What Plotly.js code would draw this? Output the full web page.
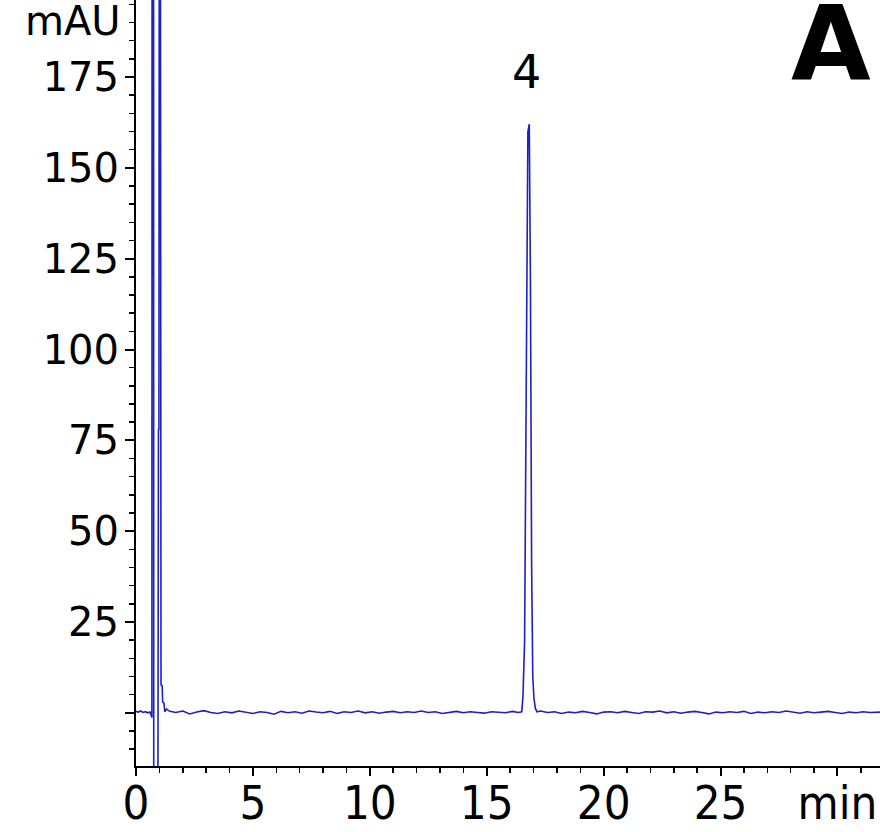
<!DOCTYPE html>
<html>
<head>
<meta charset="utf-8">
<script src="https://cdn.plot.ly/plotly-3.0.1.min.js"></script>
<style>
html,body{margin:0;padding:0;background:#fff;}
#chart{width:880px;height:832px;}
</style>
</head>
<body>
<div id="chart"></div>
<script>
// Retention time (min) and absorbance (mAU)
const timeMin = [
  0.00, 0.10, 0.20, 0.30, 0.40, 0.50, 0.60, 0.65, 0.68,
  0.69, 0.75, 0.76, 0.93, 0.96, 0.98, 1.00, 1.04, 1.07, 1.12, 1.14, 1.20, 1.23,
  1.30, 1.45, 1.70, 2.00, 2.30, 2.60, 2.90, 3.20, 3.50, 3.80, 4.10, 4.40, 4.70,
  5.00, 5.30, 5.60, 5.90, 6.20, 6.50, 6.80, 7.10, 7.40, 7.70, 8.00, 8.30, 8.60,
  8.90, 9.20, 9.50, 9.80, 10.10, 10.40, 10.70, 11.00, 11.30, 11.60, 11.90, 12.20,
  12.50, 12.80, 13.10, 13.40, 13.70, 14.00, 14.30, 14.60, 14.90, 15.20, 15.50,
  15.80, 16.10, 16.35, 16.50,
  16.55, 16.62, 16.69, 16.76, 16.82, 16.87, 16.92, 16.97, 17.02, 17.08, 17.15,
  17.30, 17.60, 17.90, 18.20, 18.50, 18.80, 19.10, 19.40, 19.70, 20.00, 20.30,
  20.60, 20.90, 21.20, 21.50, 21.80, 22.10, 22.40, 22.70, 23.00, 23.30, 23.60,
  23.90, 24.20, 24.50, 24.80, 25.10, 25.40, 25.70, 26.00, 26.30, 26.60, 26.90,
  27.20, 27.50, 27.80, 28.10, 28.40, 28.70, 29.00, 29.30, 29.60, 29.90, 30.20,
  30.50, 30.80, 31.10, 31.40, 31.82
];
const absMAU = [
  0.4, 0.2, 0.5, 0.1, 0.3, 0.0, 0.2, -0.5, -1.3,
  250, 250, -60, -60, 78, 78, 260, 260, 7.7, 7.4, 3.0, 2.6, 0.3,
  1.0, 0.4, 0.1, 0.5, -0.3, 0.2, 0.6, 0.1, -0.2, 0.3, 0.0, 0.5, 0.2,
  -0.2, 0.3, 0.1, -0.4, 0.4, 0.0, 0.3, -0.1, 0.5, 0.2, 0.0, 0.4, -0.2,
  0.3, 0.1, 0.5, 0.0, 0.3, -0.1, 0.2, 0.4, 0.0, 0.3, 0.1, 0.5,
  0.1, 0.3, -0.2, 0.2, 0.4, 0.0, 0.3, 0.1, -0.1, 0.3, 0.2,
  0.0, 0.4, 0.1, 0.3,
  4.5, 19.6, 87, 160, 162, 118, 40.6, 10, 4, 1.2, 0.3,
  0.5, 0.1, 0.3, -0.2, 0.2, 0.0, 0.4, 0.1, -0.3, 0.2, 0.3,
  0.0, 0.4, 0.1, -0.2, 0.3, 0.2, 0.5, 0.0, 0.3, -0.1, 0.2,
  0.4, 0.1, -0.3, 0.2, 0.0, 0.3, 0.1, 0.4, -0.2, 0.2, 0.0,
  0.3, 0.1, 0.5, 0.2, -0.1, 0.3, 0.0, 0.2, 0.4, 0.1, -0.2,
  0.2, 0.0, 0.3, 0.1, 0.2
];
const xTickVals = [0, 5, 10, 15, 20, 25, 30];
const xTickText = ['0', '5', '10', '15', '20', '25', 'min'];
const yTickVals = [0, 25, 50, 75, 100, 125, 150, 175];
const yTickText = ['', '25', '50', '75', '100', '125', '150', '175'];
const peakLabels = [{t: 16.84, v: 162, label: '4'}];

const trace = {
  x: timeMin, y: absMAU, type: 'scatter', mode: 'lines',
  line: {color: '#2020c0', width: 1.6},
  hoverinfo: 'skip'
};

const layout = {
  width: 880, height: 832,
  margin: {l: 136, r: 0, t: 0, b: 66, pad: 0},
  paper_bgcolor: '#ffffff', plot_bgcolor: '#ffffff',
  showlegend: false,
  xaxis: {
    range: [0, 31.82], showgrid: false, zeroline: false,
    showline: true, linecolor: '#000', linewidth: 2,
    ticks: 'outside', ticklen: 8, tickwidth: 2, tickcolor: '#000',
    tickmode: 'array', tickvals: xTickVals, ticktext: xTickText,
    tickfont: {family: 'DejaVu Sans Condensed, DejaVu Sans', size: 47, color: '#000'},
    ticklabelstandoff: -13,
    minor: {dtick: 1, ticks: 'outside', ticklen: 5, tickwidth: 1.5, tickcolor: '#000', showgrid: false}
  },
  yaxis: {
    range: [-14.64, 196.2], showgrid: false, zeroline: false,
    showline: true, linecolor: '#000', linewidth: 2,
    ticks: 'outside', ticklen: 9, tickwidth: 2, tickcolor: '#000',
    tickmode: 'array', tickvals: yTickVals, ticktext: yTickText,
    tickfont: {family: 'DejaVu Sans, Verdana', size: 40, color: '#000'},
    ticklabelstandoff: -2,
    minor: {dtick: 5, ticks: 'outside', ticklen: 5, tickwidth: 1.5, tickcolor: '#000', showgrid: false}
  },
  annotations: [
    {xref: 'paper', yref: 'paper', x: -0.024, y: 1.0, xanchor: 'right', yanchor: 'top',
     text: 'mAU', showarrow: false, yshift: 4, xshift: 5,
     font: {family: 'DejaVu Sans, Verdana', size: 40, color: '#000'}},
    {xref: 'paper', yref: 'paper', x: 0.9345, y: 1.0, xanchor: 'center', yanchor: 'top',
     text: '<b>A</b>', showarrow: false, yshift: 18,
     font: {family: 'DejaVu Sans, Verdana', size: 103, color: '#000'}}
  ].concat(peakLabels.map(p => ({
     x: p.t, y: p.v, xref: 'x', yref: 'y', text: p.label, showarrow: false,
     xanchor: 'center', yanchor: 'bottom', yshift: 23, xshift: -3,
     font: {family: 'DejaVu Sans, Verdana', size: 46, color: '#000'}
  })))
};

Plotly.newPlot('chart', [trace], layout, {staticPlot: true, displayModeBar: false});
</script>
</body>
</html>
